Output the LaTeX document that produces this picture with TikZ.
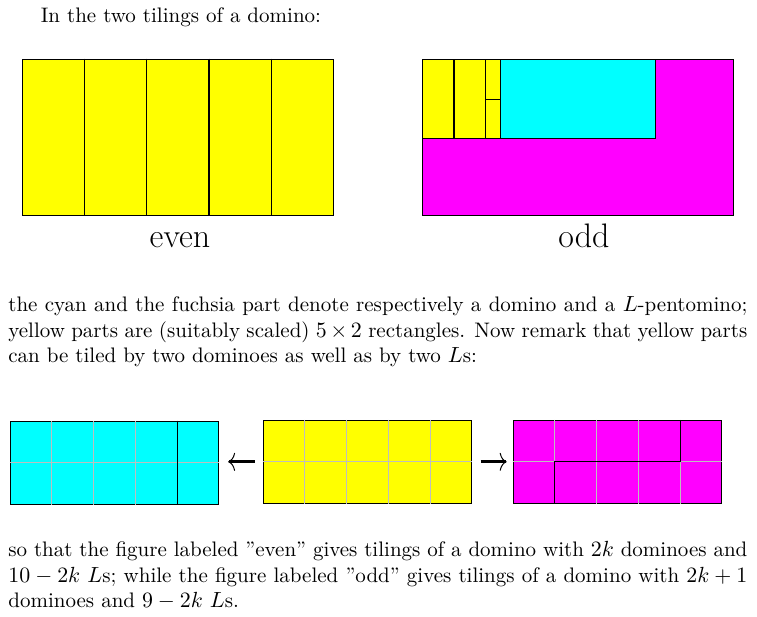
\documentclass[tikz,border=0pt]{standalone}
\definecolor{domcyan}{RGB}{0, 255, 255}
\definecolor{pentfuchsia}{RGB}{255, 0, 255}
\definecolor{rectyellow}{RGB}{255, 255, 0}
\definecolor{gridgray}{RGB}{190, 190, 190}
\usepackage{tikz}
\usetikzlibrary{arrows.meta, positioning, calc}
\usepackage{amsmath, amssymb}

\begin{document}
\begin{tikzpicture}[x=0.5pt, y=-0.5pt,
    tile/.style={draw, line width=0.6pt, inner sep=0pt},
    bigtile/.style={tile, minimum width=155.5pt, minimum height=78pt},
    smalltile/.style={tile, minimum width=104.2pt, minimum height=41.5pt},
    gridline/.style={draw=gridgray, line width=0.5pt},
    cutline/.style={draw=black, line width=0.6pt},
    maparrow/.style={-{To[length=3.5pt, width=9pt, line width=0.5pt]}, line width=1.5pt},
    bodytext/.style={font=\fontsize{10.5}{12.75}\selectfont, inner sep=0pt, anchor=base west},
    caption/.style={font=\fontsize{17}{20}\selectfont, inner sep=0pt, anchor=base}]
  \useasboundingbox (0,0) rectangle (757,617);

  % ===== Intro =====
  \node[bodytext] (intro) at (40.5, 22.7) {In the two tilings of a domino:};

  % ===== Even tiling (left) =====
  \node[bigtile, fill=rectyellow] (evenrect) at (177.8, 137.3) {};
  \foreach \i in {1,...,4}
    \draw[cutline] ($(evenrect.north west)!\i/5!(evenrect.north east)$) -- ($(evenrect.south west)!\i/5!(evenrect.south east)$);
  \node[caption] (evenlab) at (180, 247) {even};

  % ===== Odd tiling (right) =====
  \node[bigtile, fill=pentfuchsia] (oddrect) at (577.8, 137.3) {};
  \draw[cutline, fill=rectyellow] (422.3, 59.3) rectangle (453.3, 138.3);
  \draw[cutline, fill=rectyellow] (454.3, 59.3) rectangle (485.3, 138.3);
  \draw[cutline, fill=rectyellow] (485.3, 59.3) rectangle (500.3, 99.3);
  \draw[cutline, fill=rectyellow] (485.3, 99.3) rectangle (500.3, 138.3);
  \draw[cutline, fill=domcyan] (500.3, 59.3) rectangle (655.3, 138.3);
  \node[caption] (oddlab) at (584, 247) {odd};

  % ===== Remark =====
  \node[bodytext, text width=369.5pt, align=justify] (remark) at (8, 311.7) {the cyan and the fuchsia part denote respectively a domino and a $L$-pentomino;\linebreak
    yellow parts are (suitably scaled) $5\times 2$ rectangles. Now remark that yellow parts\linebreak
    can be tiled by two dominoes as well as by two $L$s:};

  % ===== Two dominoes <- 5x2 -> two Ls =====
  \node[smalltile, fill=domcyan] (dom) at (114.3, 462.6) {};
  \node[smalltile, fill=rectyellow] (yrect) at (367.5, 461.8) {};
  \node[smalltile, fill=pentfuchsia] (lrect) at (617.5, 461.8) {};

  % grid
  \foreach \r in {dom, yrect, lrect} {
    \foreach \i in {1,...,4}
      \draw[gridline] ($(\r.north west)!\i/5!(\r.north east)$) -- ($(\r.south west)!\i/5!(\r.south east)$);
    \draw[gridline] (\r.west) -- (\r.east);
  }

  % tile borders
  \draw[cutline] ($(dom.north west)!0.8!(dom.north east)$) -- ($(dom.south west)!0.8!(dom.south east)$);
  \draw[cutline] ($(lrect.south west)!0.2!(lrect.south east)$) -- ($(lrect.west)!0.2!(lrect.east)$)
    -- ($(lrect.west)!0.8!(lrect.east)$) -- ($(lrect.north west)!0.8!(lrect.north east)$);

  % Arrows
  \draw[maparrow, shorten <=4pt, shorten >=4.5pt] (yrect.west) -- (yrect.west -| dom.east);
  \draw[maparrow, shorten <=4.2pt, shorten >=3pt] (yrect.east) -- (yrect.east -| lrect.west);

  % ===== Conclusion =====
  \node[bodytext, text width=369.5pt, align=justify] (concl) at (8, 556.7) {so that the figure labeled \textquotedblright even\textquotedblright{} gives tilings of a domino with $2k$ dominoes and\linebreak
    $10-2k$ $L$s; while the figure labeled \textquotedblright odd\textquotedblright{} gives tilings of a domino with $2k+1$\linebreak
    dominoes and $9-2k$ $L$s.};
\end{tikzpicture}
\end{document}
